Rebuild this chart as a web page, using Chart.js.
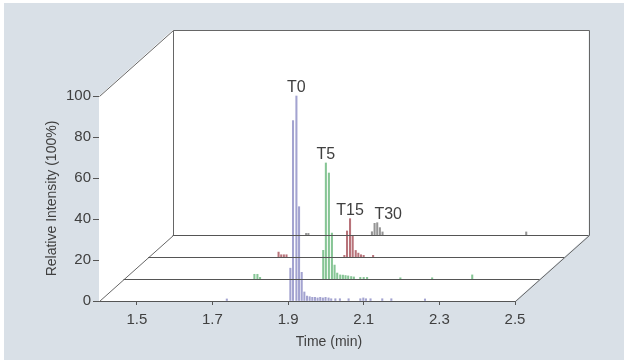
<!DOCTYPE html>
<html>
<head>
<meta charset="utf-8">
<title>Relative Intensity vs Time</title>
<script src="https://cdn.jsdelivr.net/npm/chart.js@4.4.0/dist/chart.umd.min.js"></script>
<style>
    html, body { margin: 0; padding: 0; background: #fff; }
    canvas { display: block; }
</style>
</head>
<body>
<canvas id="chart" width="624" height="360"></canvas>
<script>
// Axis ticks
const timeTicks = [1.5, 1.7, 1.9, 2.1, 2.3, 2.5];
const intensityTicks = [0, 20, 40, 60, 80, 100];

// Trace names, front to back
const traceNames = ['T0', 'T5', 'T15', 'T30'];

// T0 (front row)
const t0Times  = [1.738, 1.906, 1.913, 1.922, 1.929, 1.936, 1.943, 1.950, 1.957, 1.964, 1.971, 1.978, 1.985, 1.992, 1.999, 2.007, 2.014, 2.025, 2.037, 2.060, 2.091, 2.099, 2.106, 2.118, 2.149, 2.173, 2.262];
const t0Values = [1.0, 16, 88, 100, 46, 14, 4.4, 2.4, 2.1, 1.8, 1.8, 1.5, 1.8, 1.5, 1.8, 1.5, 1.1, 1.1, 1.1, 1.1, 1.1, 1.5, 1.1, 1.1, 1.1, 1.1, 1.0];

// T5
const t5Times  = [1.746, 1.754, 1.761, 1.928, 1.935, 1.943, 1.951, 1.958, 1.965, 1.973, 1.980, 1.987, 1.994, 2.002, 2.009, 2.026, 2.035, 2.044, 2.132, 2.216, 2.322];
const t5Values = [2.3, 2.3, 0.8, 14, 56.6, 51.7, 22.4, 6.8, 2.9, 2.0, 1.9, 1.7, 1.5, 1.2, 1.0, 0.8, 0.8, 0.8, 0.6, 0.6, 2.0];

// T15
const t15Times  = [1.745, 1.752, 1.759, 1.766, 1.919, 1.926, 1.934, 1.941, 1.949, 1.956, 1.963, 1.970, 1.995];
const t15Values = [2.4, 1.1, 1.1, 1.1, 0.8, 12.7, 18.7, 10.5, 3.2, 1.9, 1.1, 0.8, 0.8];

// T30 (back row)
const t30Times  = [1.753, 1.759, 1.927, 1.934, 1.941, 1.948, 1.955, 2.335];
const t30Values = [0.8, 0.8, 1.6, 5.7, 6.0, 3.6, 1.5, 1.5];

const traceTimes  = [t0Times, t5Times, t15Times, t30Times];
const traceValues = [t0Values, t5Values, t15Values, t30Values];

// Styling
const FONT = "'Liberation Sans', sans-serif";
const TEXT_COLOR = '#404040';
const traceColors = ['#a3a3d0', '#86c595', '#b8737a', '#959595'];
const labelShift = [0, 0, 0, 11];

// Projection of the depth axis (one step per trace)
const X_MIN = 1.4, X_MAX = 2.5;
const DEPTH_DX = 0.0649;   // minutes per step
const DEPTH_DY = 10.73;    // percent per step

const xId = d => d ? 'x' + d : 'x';
const yId = d => d ? 'y' + d : 'y';

const datasets = traceTimes.map((times, d) => ({
    type: 'bar',
    label: traceNames[d],
    data: times.map((t, i) => ({ x: t, y: traceValues[d][i] })),
    xAxisID: xId(d),
    yAxisID: yId(d),
    backgroundColor: traceColors[d],
    borderWidth: 0,
    barThickness: 1.4,
    grouped: false,
    clip: false,
    order: d
}));

const scales = {
    x: {
        type: 'linear',
        position: 'bottom',
        min: X_MIN,
        max: X_MAX,
        offset: false,
        grid: { display: true, offset: false, drawOnChartArea: false, drawTicks: true, tickLength: 4, color: '#555' },
        border: { display: true, color: '#555', width: 1 },
        ticks: { color: TEXT_COLOR, font: { family: FONT, size: 15 }, padding: 6, autoSkip: false, maxRotation: 0 },
        afterBuildTicks: s => { s.ticks = timeTicks.map(v => ({ value: v })); },
        afterFit: s => { s.height = 59; }
    },
    y: {
        type: 'linear',
        position: 'left',
        min: 0,
        max: 100,
        grid: { display: true, drawOnChartArea: false, drawTicks: true, tickLength: 6, color: '#555' },
        border: { display: true, color: '#555', width: 1 },
        ticks: { color: TEXT_COLOR, font: { family: FONT, size: 15 }, padding: 2 },
        title: {
            display: true,
            text: 'Relative Intensity (100%)',
            color: TEXT_COLOR,
            font: { family: FONT, size: 14 },
            padding: { top: 4, bottom: 0 }
        },
        afterBuildTicks: s => { s.ticks = intensityTicks.map(v => ({ value: v })); },
        afterFit: s => { s.width = 59; }
    }
};

// hidden scales for the rows behind the front one
for (let d = 1; d < traceNames.length; d++) {
    scales[xId(d)] = { type: 'linear', axis: 'x', display: false, offset: false,
        min: X_MIN - d * DEPTH_DX, max: X_MAX - d * DEPTH_DX };
    scales[yId(d)] = { type: 'linear', axis: 'y', display: false,
        min: -d * DEPTH_DY, max: 100 - d * DEPTH_DY };
}

function box(chart, d) {
    const xs = chart.scales[xId(d)], ys = chart.scales[yId(d)];
    return {
        l: xs.getPixelForValue(X_MIN),
        r: xs.getPixelForValue(X_MAX),
        t: ys.getPixelForValue(100),
        b: ys.getPixelForValue(0)
    };
}

const a = v => Math.round(v) + 0.5;

const framePlugin = {
    id: 'frame',
    beforeDraw(chart) {
        const { ctx, width, height } = chart;
        ctx.save();
        ctx.fillStyle = '#ffffff';
        ctx.fillRect(0, 0, width, height);
        ctx.fillStyle = '#d9e0e7';
        ctx.fillRect(4, 3, width - 4, height - 3);
        ctx.restore();
    },
    beforeDatasetsDraw(chart) {
        const { ctx } = chart;
        const last = traceNames.length - 1;
        const f = box(chart, 0), k = box(chart, last);
        ctx.save();
        // white walls and floor
        ctx.fillStyle = '#ffffff';
        ctx.beginPath();
        ctx.moveTo(f.l, f.t);
        ctx.lineTo(k.l, k.t);
        ctx.lineTo(k.r, k.t);
        ctx.lineTo(k.r, k.b);
        ctx.lineTo(f.r, f.b);
        ctx.lineTo(f.l, f.b);
        ctx.closePath();
        ctx.fill();
        // edges
        ctx.strokeStyle = '#666';
        ctx.lineWidth = 1;
        ctx.beginPath();
        ctx.moveTo(a(f.l), a(f.t)); ctx.lineTo(a(k.l), a(k.t));
        ctx.lineTo(a(k.r), a(k.t)); ctx.lineTo(a(k.r), a(k.b));
        ctx.moveTo(a(k.l), a(k.t)); ctx.lineTo(a(k.l), a(k.b));
        ctx.moveTo(a(f.l), a(f.b)); ctx.lineTo(a(k.l), a(k.b));
        ctx.moveTo(a(f.r), a(f.b)); ctx.lineTo(a(k.r), a(k.b));
        ctx.stroke();
        ctx.restore();
    },
    afterDatasetsDraw(chart) {
        const { ctx, chartArea } = chart;
        ctx.save();
        // baselines of the rows behind
        ctx.strokeStyle = '#555';
        ctx.lineWidth = 1;
        ctx.beginPath();
        for (let d = 1; d < traceNames.length; d++) {
            const r = box(chart, d);
            ctx.moveTo(r.l, a(r.b));
            ctx.lineTo(r.r, a(r.b));
        }
        ctx.stroke();

        // peak labels
        ctx.fillStyle = TEXT_COLOR;
        ctx.font = '16px ' + FONT;
        ctx.textAlign = 'center';
        ctx.textBaseline = 'alphabetic';
        traceNames.forEach((name, d) => {
            const vals = traceValues[d];
            const i = vals.indexOf(Math.max(...vals));
            const px = chart.scales[xId(d)].getPixelForValue(traceTimes[d][i]);
            const py = chart.scales[yId(d)].getPixelForValue(vals[i]);
            ctx.fillText(name, px + labelShift[d], py - 4);
        });

        // x axis title
        ctx.font = '14px ' + FONT;
        ctx.textBaseline = 'middle';
        ctx.fillText('Time (min)', (chartArea.left + chartArea.right) / 2 + 22, 342);
        ctx.restore();
    }
};

const chart = new Chart(document.getElementById('chart'), {
    type: 'bar',
    data: { datasets },
    options: {
        responsive: false,
        animation: false,
        events: [],
        layout: { padding: { left: 40, right: 109, top: 96, bottom: 0 } },
        plugins: { legend: { display: false }, tooltip: { enabled: false } },
        scales
    },
    plugins: [framePlugin]
});
</script>
</body>
</html>
